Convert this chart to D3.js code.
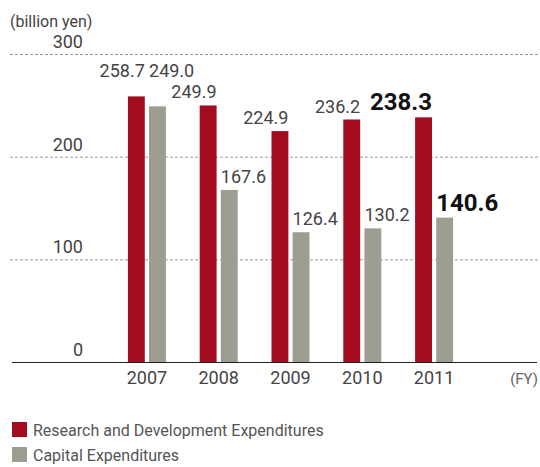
<!DOCTYPE html>
<html>
<head>
<meta charset="utf-8">
<style>
  * { margin:0; padding:0 }
  body { background:#fff; overflow:hidden; }
  svg text { font-family: Roboto, "Liberation Sans", sans-serif; }
</style>
<script src="https://cdn.jsdelivr.net/npm/d3@7"></script>
</head>
<body>
<script>
var years = ["2007", "2008", "2009", "2010", "2011"];
var rdValues = [258.7, 249.9, 224.9, 236.2, 238.3];
var capexValues = [249.0, 167.6, 126.4, 130.2, 140.6];
var seriesNames = ["Research and Development Expenditures", "Capital Expenditures"];
var yTicks = [0, 100, 200, 300];

var width = 540, height = 467;
var red = "#a30b1f", grey = "#9d9d92";

var svg = d3.select("body").append("svg")
    .attr("width", width)
    .attr("height", height);

var y = d3.scaleLinear().domain([0, 300]).range([362, 54]);
var x = d3.scaleBand().domain(years).range([111, 470]);
var inner = d3.scaleBand().domain(["rd", "cap"]).range([0, 38]).paddingInner(0.2);

// unit
svg.append("text")
    .attr("x", 10).attr("y", 27)
    .attr("font-size", 16).attr("fill", "#444")
    .text("(billion yen)");

// grid lines
svg.selectAll("line.grid")
    .data(yTicks.filter(function(d) { return d > 0; }))
  .enter().append("line")
    .attr("class", "grid")
    .attr("x1", 10).attr("x2", 540)
    .attr("y1", function(d) { return y(d) + 0.5; })
    .attr("y2", function(d) { return y(d) + 0.5; })
    .attr("stroke", "#999")
    .attr("stroke-dasharray", "3,2");

svg.selectAll("text.ytick")
    .data(yTicks)
  .enter().append("text")
    .attr("class", "ytick")
    .attr("x", 83)
    .attr("y", function(d) { return y(d) - 6; })
    .attr("text-anchor", "end")
    .attr("font-size", 18)
    .attr("fill", "#444")
    .text(function(d) { return d; });

// bars
var rows = years.map(function(yr, i) {
  return { year: yr, i: i, vals: [{ key: "rd", v: rdValues[i] }, { key: "cap", v: capexValues[i] }] };
});

var groups = svg.selectAll("g.year")
    .data(rows)
  .enter().append("g")
    .attr("transform", function(d) { return "translate(" + (x(d.year) + (x.bandwidth() - 38) / 2) + ",0)"; });

groups.selectAll("rect")
    .data(function(d) { return d.vals; })
  .enter().append("rect")
    .attr("x", function(d) { return inner(d.key); })
    .attr("width", inner.bandwidth())
    .attr("y", function(d) { return y(d.v); })
    .attr("height", function(d) { return y(0) - y(d.v); })
    .attr("fill", function(d) { return d.key == "rd" ? red : grey; });

// value labels: red ones end at bar right, grey ones start at bar left
var last = years.length - 1;
var labels = groups.selectAll("text.val")
    .data(function(d) { return d.vals.map(function(v) { return { key: v.key, v: v.v, i: d.i }; }); })
  .enter().append("text")
    .attr("class", "val")
    .attr("x", function(d) { return d.key == "rd" ? inner("rd") + inner.bandwidth() : inner("cap"); })
    .attr("y", function(d) { return y(d.v) - 7; })
    .attr("text-anchor", function(d) { return d.key == "rd" ? "end" : "start"; })
    .attr("font-size", function(d) { return d.i == last ? 24 : 18; })
    .attr("font-weight", function(d) { return d.i == last ? "bold" : "normal"; })
    .attr("fill", function(d) { return d.i == last ? "#111" : "#444"; })
    .text(function(d) { return d.v.toFixed(1); });

// lift a year's labels when its grey label runs into the next year's red label
var nodes = labels.nodes();
function box(n) {
  var b = n.getBBox(), m = n.parentNode.transform.baseVal.consolidate().matrix;
  return { x0: b.x + m.e, x1: b.x + b.width + m.e, y0: b.y, y1: b.y + b.height };
}
for (var i = years.length - 2; i >= 0; i--) {
  var capNode = nodes[i * 2 + 1], nextRd = nodes[(i + 1) * 2];
  var a = box(capNode), b = box(nextRd);
  if (a.x1 > b.x0 && a.x0 < b.x1 && a.y1 > b.y0 && a.y0 < b.y1) {
    var liftY = +d3.select(nextRd).attr("y") - 21;
    d3.select(nodes[i * 2]).attr("y", liftY);
    d3.select(capNode).attr("y", liftY);
  }
}

// axis line
svg.append("line")
    .attr("x1", 12).attr("x2", 537)
    .attr("y1", y(0) + 0.5).attr("y2", y(0) + 0.5)
    .attr("stroke", "#222");

svg.selectAll("text.year")
    .data(years)
  .enter().append("text")
    .attr("class", "year")
    .attr("x", function(d) { return x(d) + x.bandwidth() / 2; })
    .attr("y", 384)
    .attr("text-anchor", "middle")
    .attr("font-size", 18)
    .attr("fill", "#444")
    .text(function(d) { return d; });

svg.append("text")
    .attr("x", 538).attr("y", 384)
    .attr("text-anchor", "end")
    .attr("font-size", 15)
    .attr("fill", "#666")
    .text("(FY)");

// legend
var legend = svg.selectAll("g.legend")
    .data(seriesNames)
  .enter().append("g")
    .attr("transform", function(d, i) { return "translate(12," + (422 + i * 25) + ")"; });

legend.append("rect")
    .attr("width", 15).attr("height", 15)
    .attr("fill", function(d, i) { return i == 0 ? red : grey; });

legend.append("text")
    .attr("x", 21).attr("y", 14)
    .attr("font-size", 16)
    .attr("fill", "#555")
    .text(function(d) { return d; });
</script>
</body>
</html>
